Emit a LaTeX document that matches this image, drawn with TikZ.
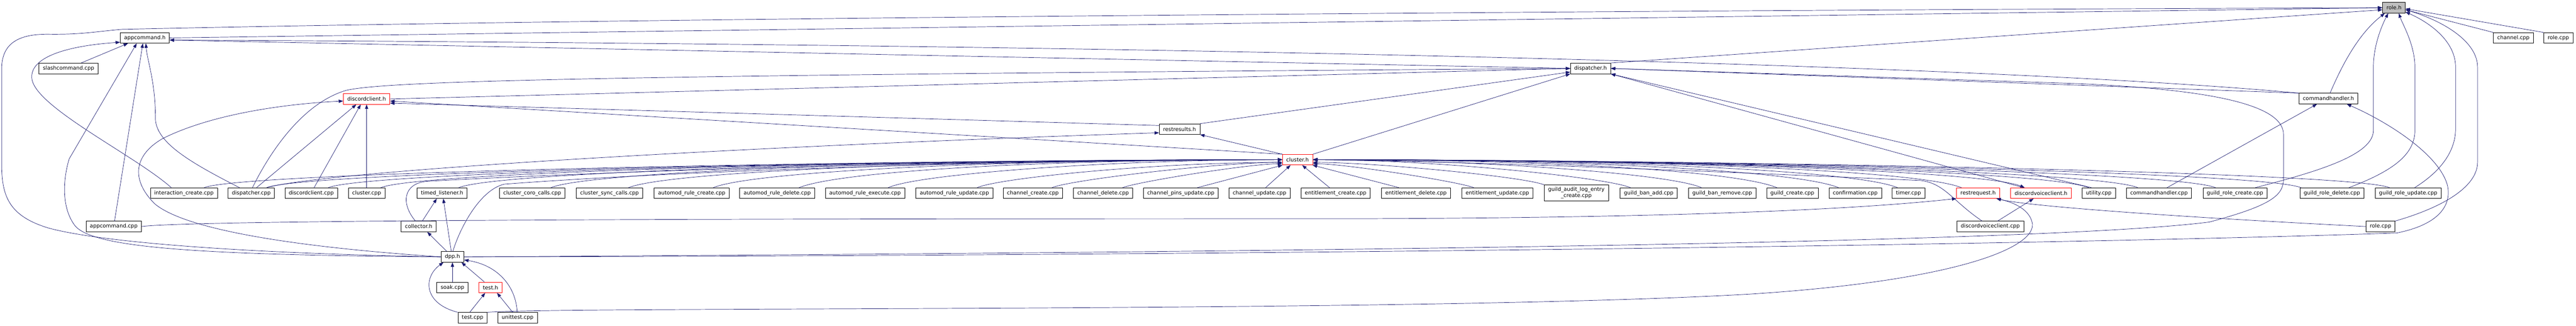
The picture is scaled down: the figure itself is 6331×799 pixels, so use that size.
\documentclass[tikz,border=0pt]{standalone}
\usepackage{fontspec}
\newfontfamily\doxfont{DejaVu Sans}
\usetikzlibrary{arrows.meta}
\definecolor{edgeblue}{HTML}{191970}
\definecolor{rootgray}{HTML}{BFBFBF}

\begin{document}
\begin{tikzpicture}[x=1pt, y=-1pt, >={Triangle[length=11pt,width=8pt]},
    file/.style={draw=black, fill=white, line width=0.9pt, inner xsep=9.5pt, inner ysep=0pt, minimum height=26pt, font=\doxfont\fontsize{13}{15}\selectfont},
    trunc/.style={file, draw=red},
    root/.style={file, fill=rootgray},
    inc/.style={->, draw=edgeblue, line width=0.9pt}]
\useasboundingbox (0,0) rectangle (6331,799);

\node[root] (roleh) at (5883.5,19) {role.h};
\node[file] (apph) at (356,93) {appcommand.h};
\node[file] (chancpp) at (6177,93) {channel.cpp};
\node[file] (rolecpp) at (6287.5,93) {role.cpp};
\node[file] (slash) at (168.5,168) {slashcommand.cpp};
\node[file] (disph) at (3909,168) {dispatcher.h};
\node[trunc] (dch) at (901,243) {discordclient.h};
\node[file] (cmdh) at (5722.5,242) {commandhandler.h};
\node[file] (rresh) at (2899,317) {restresults.h};
\node[trunc] (clh) at (3189,392) {cluster.h};
\node[file] (icr) at (452,474) {interaction\_create.cpp};
\node[file] (dispcpp) at (617.5,474) {dispatcher.cpp};
\node[file] (dccpp) at (765,474) {discordclient.cpp};
\node[file] (clcpp) at (901,474) {cluster.cpp};
\node[file] (tlh) at (1086.5,474) {timed\_listener.h};
\node[file] (coro) at (1308,474) {cluster\_coro\_calls.cpp};
\node[file] (sync) at (1498,474) {cluster\_sync\_calls.cpp};
\node[file] (arc) at (1700,474) {automod\_rule\_create.cpp};
\node[file] (ard) at (1910,474) {automod\_rule\_delete.cpp};
\node[file] (are) at (2126,474) {automod\_rule\_execute.cpp};
\node[file] (aru) at (2345.5,474) {automod\_rule\_update.cpp};
\node[file] (chc) at (2538.5,474) {channel\_create.cpp};
\node[file] (chd) at (2711,474) {channel\_delete.cpp};
\node[file] (chp) at (2902,474) {channel\_pins\_update.cpp};
\node[file] (chu) at (3095.5,474) {channel\_update.cpp};
\node[file] (entc) at (3282.5,474) {entitlement\_create.cpp};
\node[file] (entd) at (3480,474) {entitlement\_delete.cpp};
\node[file] (entu) at (3680,474) {entitlement\_update.cpp};
\node[file, align=center, minimum height=39pt] (galec) at (3874,473.5) {guild\_audit\_log\_entry\\\_create.cpp};
\node[file] (gba) at (4052,474) {guild\_ban\_add.cpp};
\node[file] (gbr) at (4232.5,474) {guild\_ban\_remove.cpp};
\node[file] (gcr) at (4405,474) {guild\_create.cpp};
\node[file] (conf) at (4559.5,474) {confirmation.cpp};
\node[file] (timer) at (4690.5,474) {timer.cpp};
\node[trunc] (rreqh) at (4861.5,474) {restrequest.h};
\node[trunc] (dvch) at (5016,474) {discordvoiceclient.h};
\node[file] (util) at (5158,474) {utility.cpp};
\node[file] (cmdcpp) at (5306,474) {commandhandler.cpp};
\node[file] (grc) at (5493,474) {guild\_role\_create.cpp};
\node[file] (grd) at (5731,474) {guild\_role\_delete.cpp};
\node[file] (gru) at (5918.5,474) {guild\_role\_update.cpp};
\node[file] (appcpp) at (279.5,556) {appcommand.cpp};
\node[file] (coll) at (1029,556) {collector.h};
\node[file] (dvccpp) at (4891.5,556) {discordvoiceclient.cpp};
\node[file] (rolecppb) at (5850.5,556) {role.cpp};
\node[file] (dpph) at (1112,630.5) {dpp.h};
\node[file] (soak) at (1112,705.5) {soak.cpp};
\node[trunc] (testh) at (1205.5,705.5) {test.h};
\node[file] (testcpp) at (1161.5,780) {test.cpp};
\node[file] (utcpp) at (1272,780) {unittest.cpp};

\draw[inc] (apph.east) -- (roleh.west);
\draw[inc] (dpph.west) .. controls (600,622) and (250,595) .. (120,560) .. controls (20,530) and (4,480) .. (4,400) -- (4,170) .. controls (4,110) and (40,83) .. (120,84) .. controls (200,85) and (230,78) .. (300,72) .. controls (1500,45) and (4000,25) .. (roleh.west);
\draw[inc] (disph.north east) -- (roleh.190);
\draw[inc] (chancpp.north west) -- (roleh.350);
\draw[inc] (rolecpp.north west) -- (roleh.355);
\draw[inc] ([xshift=4pt]cmdh.north) .. controls (5760,150) and (5800,80) .. (roleh.211);
\draw[inc] ([xshift=50pt]grc.north) .. controls (5700,420) and (5833,380) .. (5833,320) -- (5833,165) .. controls (5833,110) and (5855,60) .. (roleh.224);
\draw[inc] ([xshift=42pt]grd.north) .. controls (5880,420) and (5935,380) .. (5935,320) -- (5935,165) .. controls (5935,110) and (5905,60) .. (roleh.311);
\draw[inc] ([xshift=16pt]gru.north) .. controls (6000,420) and (6035,370) .. (6035,316) -- (6035,165) .. controls (6035,100) and (5970,55) .. (roleh.340);
\draw[inc] (rolecppb.north east) .. controls (6000,510) and (6089,460) .. (6089,398) -- (6089,165) .. controls (6089,100) and (6000,50) .. (roleh.350);

\draw[inc] ([xshift=31pt]slash.north) -- (apph.198);
\draw[inc] ([xshift=-31pt]icr.north) .. controls (330,380) and (80,260) .. (78,190) .. controls (76,130) and (200,110) .. (apph.190);
\draw[inc] ([xshift=2pt]appcpp.north) -- (apph.250);
\draw[inc] ([xshift=-29pt]dispcpp.north) .. controls (470,400) and (382,350) .. (382,290) .. controls (382,200) and (362,150) .. (apph.280);
\draw[inc] (dpph.west) .. controls (450,626) and (230,605) .. (185,555) .. controls (150,510) and (155,440) .. (170,390) -- (apph.214);
\draw[inc] (disph.west) -- (apph.355);
\draw[inc] (cmdh.north west) .. controls (4900,160) and (3000,110) .. (apph.355);

\draw[inc] ([xshift=3pt]dispcpp.north) .. controls (660,380) and (740,255) .. (850,222) .. controls (950,198) and (1500,185) .. (disph.west);
\draw[inc] (dch.east) -- (disph.west);
\draw[inc] (rresh.north east) -- (disph.190);
\draw[inc] (clh.north east) -- (disph.south west);
\draw[inc] (cmdh.north west) -- (disph.east);
\draw[inc] (dpph.east) .. controls (3000,620) and (5000,600) .. (5430,545) .. controls (5580,505) and (5612,480) .. (5612,440) -- (5612,330) .. controls (5612,260) and (5450,220) .. (5100,205) -- (disph.east);
\draw[inc] ([xshift=-18pt]util.north) -- (disph.south east);
\draw[inc] ([xshift=-43pt]dvch.north) -- (disph.south east);

\draw[inc] ([xshift=13pt]dispcpp.north) -- (dch.208);
\draw[inc] ([xshift=7pt]dccpp.north) -- (dch.223);
\draw[inc] (clcpp.north) -- (dch.south);
\draw[inc] (rresh.170) -- (dch.350);
\draw[inc] (clh.160) -- (dch.355);
\draw[inc] (dpph.west) .. controls (700,605) and (450,560) .. (380,500) .. controls (320,440) and (330,380) .. (400,340) .. controls (520,280) and (700,255) .. (dch.185);

\draw[inc] (clh.north west) -- (rresh.south east);
\draw[inc] ([xshift=38pt]dispcpp.north) .. controls (800,420) and (1800,360) .. (rresh.190);

\draw[inc] ([xshift=50pt]icr.north) .. controls +(100,-40) and +(-900,0) .. (clh.west);
\draw[inc] ([xshift=38pt]dispcpp.north) .. controls +(100,-40) and +(-900,0) .. (clh.west);
\draw[inc] ([xshift=42pt]dccpp.north) .. controls +(100,-40) and +(-900,0) .. (clh.west);
\draw[inc] ([xshift=35pt]clcpp.north) .. controls +(100,-40) and +(-900,0) .. (clh.west);
\draw[inc] ([xshift=41pt]tlh.north) .. controls +(100,-40) and +(-900,0) .. (clh.west);
\draw[inc] ([xshift=46pt]coro.north) .. controls +(100,-40) and +(-900,0) .. (clh.west);
\draw[inc] ([xshift=47pt]sync.north) .. controls +(100,-40) and +(-800,0) .. (clh.west);
\draw[inc] ([xshift=53pt]arc.north) .. controls +(100,-40) and +(-700,0) .. (clh.west);
\draw[inc] ([xshift=54pt]ard.north) .. controls +(100,-40) and +(-600,0) .. (clh.west);
\draw[inc] ([xshift=57pt]are.north) .. controls +(80,-35) and +(-400,0) .. (clh.west);
\draw[inc] ([xshift=56pt]aru.north) .. controls +(60,-25) and +(-300,0) .. (clh.190);
\draw[inc] ([xshift=47pt]chc.north) .. controls +(50,-20) and +(-150,0) .. (clh.190);
\draw[inc] ([xshift=48pt]chd.north) .. controls +(40,-15) and +(-80,0) .. (clh.195);
\draw[inc] ([xshift=41pt]chp.north) -- (clh.200);
\draw[inc] ([xshift=15pt]chu.north) -- (clh.218);
\draw[inc] ([xshift=-8pt]coll.north) .. controls (985,500) and (990,450) .. (1050,445) .. controls (1500,420) and (2300,395) .. (clh.west);
\draw[inc] ([xshift=1pt]dpph.north) .. controls (1130,560) and (1180,465) .. (1240,452) .. controls (1600,425) and (2300,395) .. (clh.west);

\draw[inc] ([xshift=-15pt]entc.north) -- (clh.310);
\draw[inc] ([xshift=-42pt]entd.north) -- (clh.340);
\draw[inc] ([xshift=-58pt]entu.north) .. controls +(-40,-15) and +(80,0) .. (clh.345);
\draw[inc] (galec.north west) .. controls +(-50,-20) and +(150,0) .. (clh.350);
\draw[inc] ([xshift=-45pt]gba.north) .. controls +(-60,-25) and +(300,0) .. (clh.east);
\draw[inc] ([xshift=-51pt]gbr.north) .. controls +(-80,-35) and +(400,0) .. (clh.east);
\draw[inc] ([xshift=-38pt]gcr.north) .. controls +(-100,-40) and +(600,0) .. (clh.east);
\draw[inc] ([xshift=-41pt]conf.north) .. controls +(-100,-40) and +(700,0) .. (clh.east);
\draw[inc] ([xshift=-27pt]timer.north) .. controls +(-100,-40) and +(800,0) .. (clh.east);
\draw[inc] ([xshift=-41pt]rreqh.north) .. controls +(-100,-40) and +(900,0) .. (clh.east);
\draw[inc] ([xshift=-20pt]dvccpp.north) .. controls (4800,495) and (4780,450) .. (4720,443) .. controls (4300,425) and (3700,398) .. (clh.east);
\draw[inc] ([xshift=-25pt]util.north) .. controls +(-100,-40) and +(900,0) .. (clh.east);
\draw[inc] ([xshift=-52pt]cmdcpp.north) .. controls +(-100,-40) and +(900,0) .. (clh.east);
\draw[inc] ([xshift=-48pt]grc.north) .. controls +(-100,-40) and +(900,0) .. (clh.east);
\draw[inc] ([xshift=-76pt]grd.north) .. controls +(-100,-40) and +(900,0) .. (clh.east);
\draw[inc] ([xshift=-46pt]gru.north) .. controls +(-100,-40) and +(900,0) .. (clh.east);
\draw[inc] (clh.east) .. controls +(900,0) and +(-100,-40) .. ([xshift=-40pt]dvch.north);

\draw[inc] ([xshift=-14pt]dpph.north) -- ([xshift=21pt]coll.south);
\draw[inc] ([xshift=-3pt]dpph.north) -- ([xshift=3pt]tlh.south);
\draw[inc] ([xshift=9pt]coll.north) -- ([xshift=-13pt]tlh.south);
\draw[inc] (soak.north) -- (dpph.south);
\draw[inc] ([xshift=-15pt]testh.north) -- ([xshift=22pt]dpph.south);
\draw[inc] ([xshift=-7pt]testcpp.north) -- ([xshift=-13pt]testh.south);
\draw[inc] ([xshift=-12pt]utcpp.north) -- ([xshift=16pt]testh.south);
\draw[inc] (testcpp.north west) .. controls (1040,745) and (1040,680) .. ([xshift=-22pt]dpph.south);
\draw[inc] ([xshift=-1pt]utcpp.north) .. controls (1268,700) and (1220,650) .. (dpph.345);

\draw[inc] (testcpp.north east) .. controls (1400,752) and (3500,768) .. (4300,722) .. controls (4800,690) and (5000,610) .. (4995,550) .. controls (4990,515) and (4950,497) .. ([xshift=45pt]rreqh.south);
\draw[inc] (appcpp.east) .. controls (500,536) and (2500,537) .. (3300,537) .. controls (4200,535) and (4600,510) .. (rreqh.south west);
\draw[inc] (rolecppb.west) .. controls (5300,530) and (4980,505) .. ([xshift=45pt]rreqh.south);
\draw[inc] ([xshift=18pt]dvccpp.north) -- ([xshift=-18pt]dvch.south);
\draw[inc] ([xshift=20pt]cmdcpp.north) -- ([xshift=-28pt]cmdh.south);
\draw[inc] (dpph.east) .. controls (3000,628) and (5000,602) .. (5890,572) .. controls (6000,550) and (6025,500) .. (6015,455) .. controls (5995,380) and (5870,300) .. ([xshift=45pt]cmdh.south);
\end{tikzpicture}
\end{document}
